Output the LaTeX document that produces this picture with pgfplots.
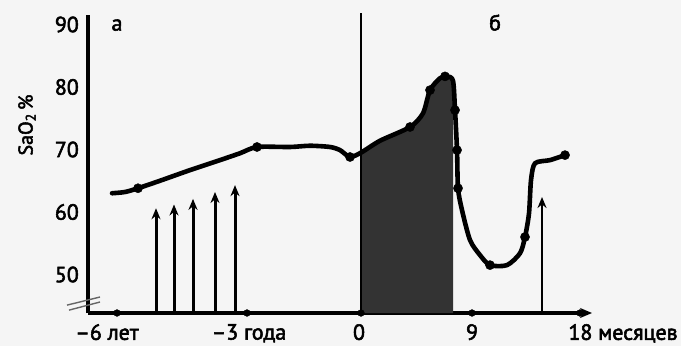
\documentclass[border=0pt]{standalone}
\usepackage{fontspec}
\setmainfont{PT Sans}
\newfontfamily\lab{PT Sans}[FakeBold=2.5]
\usepackage{pgfplots}
\pgfplotsset{compat=1.18}
\usetikzlibrary{arrows.meta}

\begin{document}
\begin{tikzpicture}[x=1bp,y=1bp]
\fill[black!4] (0,0) rectangle (681,346);
\path[use as bounding box] (0,0) rectangle (681,346);
\begin{axis}[
  at={(88bp,33bp)}, anchor=south west,
  scale only axis, width=504bp, height=298bp,
  xmin=88, xmax=592, ymin=43.84, ymax=91.52,
  axis x line=bottom, axis y line=left,
  x axis line style={line width=3.6bp, -{Stealth[length=12bp,width=10bp]}},
  y axis line style={line width=4.5bp, -},
  xtick={107,249,359,472},
  xticklabels={–6 лет, –3 года, 0, 9},
  ytick={50,60,70,80,90},
  major tick length=0pt,
  tick label style={font=\lab\fontsize{22}{24}\selectfont},
  xticklabel style={yshift=-7.7bp},
  yticklabel style={xshift=-5.7bp},
  /pgf/number format/assume math mode=true,
  clip=false,
]
% shaded area
\addplot[fill=black!80, draw=none] coordinates {
  (361,43.84) (361,69.6) (370,70.4) (380,71.4) (395,72.4) (410,73.6) (418,74.8)
  (423,76.0) (427,78.0) (430,79.5) (435,80.7) (440,81.4) (447,81.7) (453,81.1) (453,43.84)
} -- cycle;
% thin vertical line at 0
\addplot[line width=1.4bp, black] coordinates {(361,43.84) (361,91.84)};
% curve
\addplot[line width=4.6bp, smooth, tension=0.45, line join=round, line cap=round] coordinates {
  (112,63.0) (125,63.2) (138,63.8) (160,65.0) (190,66.7) (220,68.3) (240,69.4)
  (257,70.4) (290,70.4) (310,70.6) (330,70.4) (340,69.9) (350,68.8) (361,69.5)
  (380,71.4) (410,73.6) (423,75.8) (430,79.5) (440,81.4) (447,81.7) (453,81.0)
  (455,76.3) (457,69.9) (458,63.8) (462,60.3) (470,55.5) (480,53.1) (490,51.5)
  (507,51.5) (520,53.4) (525,56.0) (529,59.8) (531,65.1) (535,67.8) (550,68.3) (565,69.1)
};
% dots on curve
\addplot[only marks, mark=*, mark size=4.6bp, black] coordinates {
  (138,63.8) (257,70.4) (350,68.8) (410,73.6) (430,79.5) (445,81.7) (455,76.3)
  (457,69.9) (458,63.8) (490,51.5) (525,56.0) (565,69.1)
};
% dots on x axis
\addplot[only marks, mark=*, mark size=3.4bp, black] coordinates {
  (117,43.84) (247,43.84) (361,43.84) (472,43.84) (580,43.84)
};
% arrows
\addplot[line width=3bp, -{Stealth[length=11bp,width=9bp]}] coordinates {(156,43.84) (156,60.6)};
\addplot[line width=3bp, -{Stealth[length=11bp,width=9bp]}] coordinates {(174,43.84) (174,61.2)};
\addplot[line width=3bp, -{Stealth[length=11bp,width=9bp]}] coordinates {(193,43.84) (193,62.1)};
\addplot[line width=3bp, -{Stealth[length=11bp,width=9bp]}] coordinates {(215,43.84) (215,63.2)};
\addplot[line width=3bp, -{Stealth[length=11bp,width=9bp]}] coordinates {(235,43.84) (235,64.3)};
\addplot[line width=2.6bp, -{Stealth[length=11bp,width=9bp]}] coordinates {(542,43.84) (542,62.4)};
% axis break marks
\draw[black!60, line width=1.4bp] (axis cs:67,45.1) -- (axis cs:100,46.4);
\draw[black!60, line width=1.4bp] (axis cs:69,44.3) -- (axis cs:100,45.6);
% last x label
\node[anchor=north, yshift=-7.7bp, font=\lab\fontsize{22}{24}\selectfont] at (axis cs:623,43.84) {18 месяцев};
% panel letters
\node[font=\lab\fontsize{22}{24}\selectfont] at (axis cs:117,89.9) {а};
\node[font=\lab\fontsize{22}{24}\selectfont] at (axis cs:495,90.3) {б};
\end{axis}
\node[rotate=90, font=\lab\fontsize{20}{22}\selectfont] at (27bp,221bp) {SaO\textsubscript{2}\,\%};
\end{tikzpicture}
\end{document}
